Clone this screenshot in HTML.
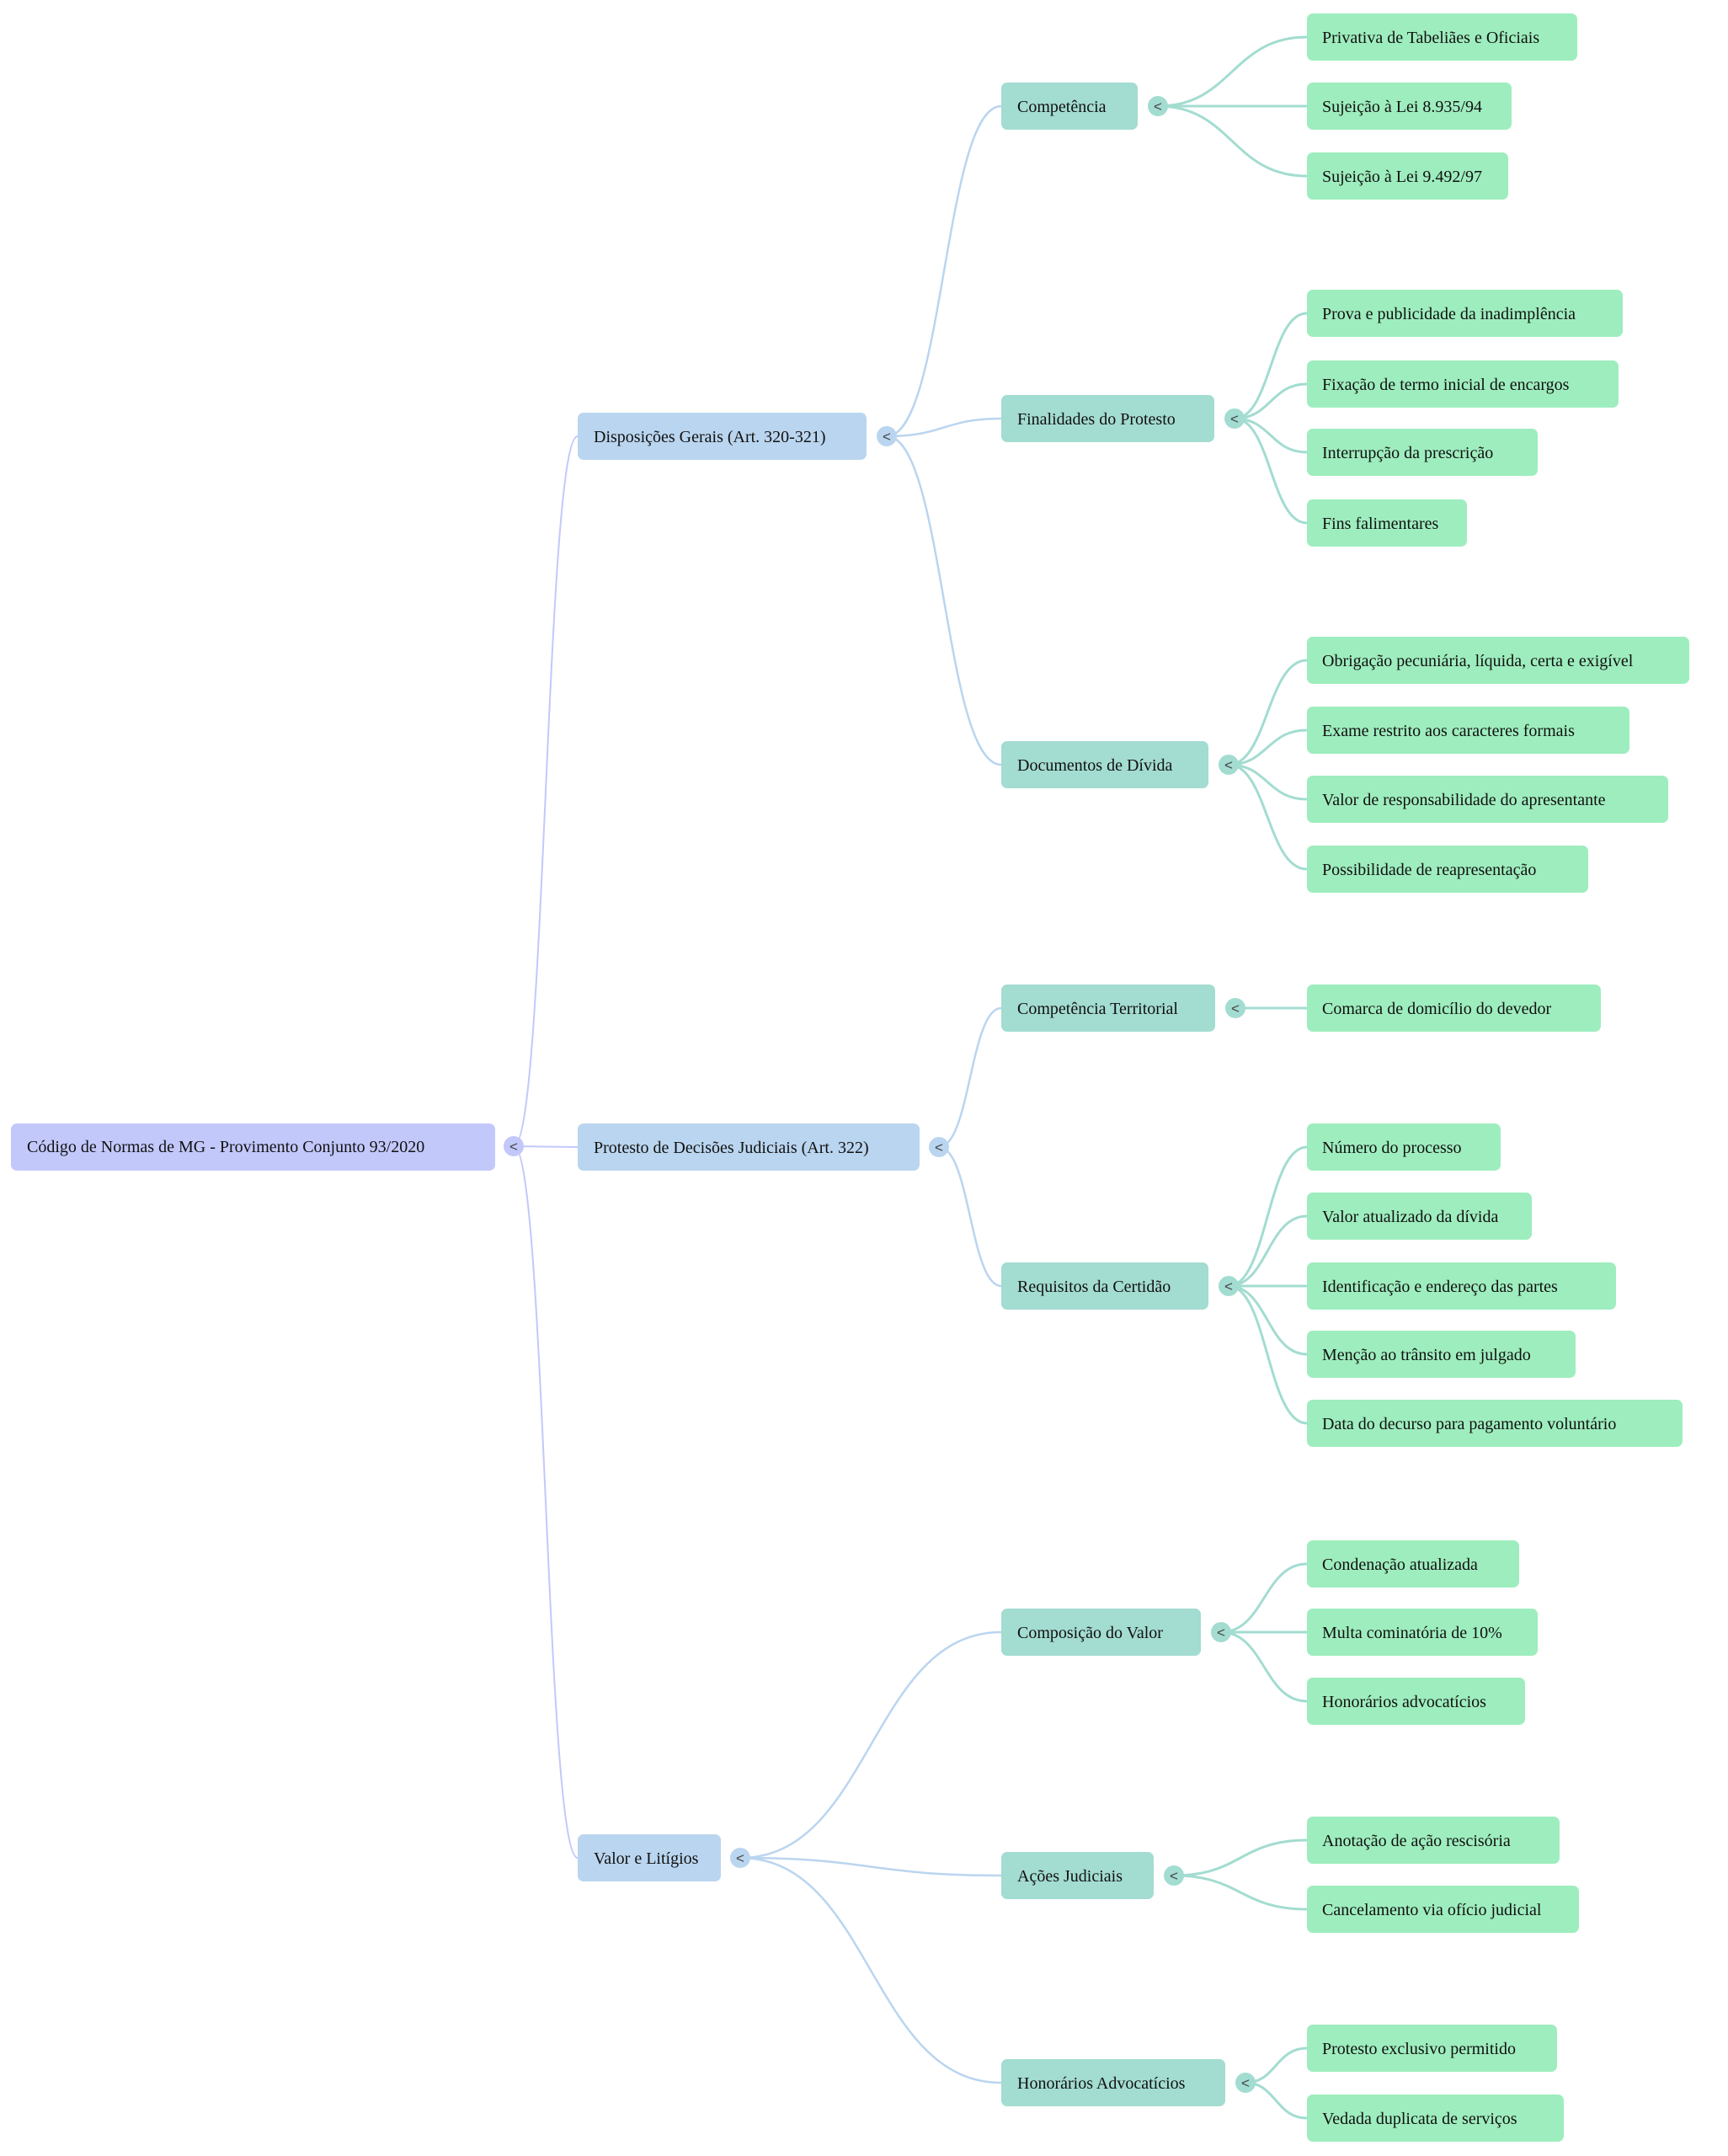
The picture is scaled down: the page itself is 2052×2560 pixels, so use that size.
<!DOCTYPE html>
<html><head><meta charset="utf-8"><style>
html,body{margin:0;padding:0;background:#fff;}
svg{display:block;}
text{font-family:"Liberation Serif",serif;font-size:20px;fill:#111;}
.tg{font-family:"Liberation Sans",sans-serif;font-size:17px;fill:#444;text-anchor:middle;}
</style></head><body>
<svg width="2052" height="2560" viewBox="0 0 2052 2560" xmlns="http://www.w3.org/2000/svg">
<!-- root edges -->
<g fill="none" stroke="#c3c8fb" stroke-width="2">
<path d="M610 1361 C648 1361,648 518,686 518"/>
<path d="M610 1361 L686 1362"/>
<path d="M610 1361 C648 1361,648 2206,686 2206"/>
</g>
<!-- level1 edges -->
<g fill="none" stroke="#bad5ef" stroke-width="2.5">
<path d="M1053 518 C1121 518,1121 126,1189 126"/>
<path d="M1053 518 C1121 518,1121 497,1189 497"/>
<path d="M1053 518 C1121 518,1121 908,1189 908"/>
<path d="M1115 1362 C1152 1362,1152 1197,1189 1197"/>
<path d="M1115 1362 C1152 1362,1152 1527,1189 1527"/>
<path d="M879 2206 C1034 2206,1034 1938,1189 1938"/>
<path d="M879 2206 C1034 2206,1034 2227,1189 2227"/>
<path d="M879 2206 C1034 2206,1034 2473,1189 2473"/>
</g>
<!-- level2 edges -->
<g fill="none" stroke="#a3dcd1" stroke-width="3">
<path d="M1375 126 C1463 126,1463 44,1552 44"/>
<path d="M1375 126 L1552 126"/>
<path d="M1375 126 C1463 126,1463 209,1552 209"/>
<path d="M1466 497 C1509 497,1509 372,1552 372"/>
<path d="M1466 497 C1509 497,1509 456,1552 456"/>
<path d="M1466 497 C1509 497,1509 537,1552 537"/>
<path d="M1466 497 C1509 497,1509 621,1552 621"/>
<path d="M1459 908 C1505 908,1505 784,1552 784"/>
<path d="M1459 908 C1505 908,1505 867,1552 867"/>
<path d="M1459 908 C1505 908,1505 949,1552 949"/>
<path d="M1459 908 C1505 908,1505 1032,1552 1032"/>
<path d="M1467 1197 L1552 1197"/>
<path d="M1459 1527 C1505 1527,1505 1362,1552 1362"/>
<path d="M1459 1527 C1505 1527,1505 1444,1552 1444"/>
<path d="M1459 1527 L1552 1527"/>
<path d="M1459 1527 C1505 1527,1505 1608,1552 1608"/>
<path d="M1459 1527 C1505 1527,1505 1690,1552 1690"/>
<path d="M1450 1938 C1501 1938,1501 1857,1552 1857"/>
<path d="M1450 1938 L1552 1938"/>
<path d="M1450 1938 C1501 1938,1501 2020,1552 2020"/>
<path d="M1394 2227 C1473 2227,1473 2185,1552 2185"/>
<path d="M1394 2227 C1473 2227,1473 2267,1552 2267"/>
<path d="M1479 2473 C1515 2473,1515 2432,1552 2432"/>
<path d="M1479 2473 C1515 2473,1515 2515,1552 2515"/>
</g>
<!-- root -->
<rect x="13" y="1334" width="575" height="56" rx="7" fill="#c3c8fb"/>
<text x="32" y="1368">Código de Normas de MG - Provimento Conjunto 93/2020</text>
<circle cx="610" cy="1361" r="12" fill="#c3c8fb"/><text class="tg" x="610" y="1367">&lt;</text>
<!-- level1 -->
<g fill="#bad5ef">
<rect x="686" y="490" width="343" height="56" rx="7"/>
<rect x="686" y="1334" width="406" height="56" rx="7"/>
<rect x="686" y="2178" width="170" height="56" rx="7"/>
<circle cx="1053" cy="518" r="12"/><circle cx="1115" cy="1362" r="12"/><circle cx="879" cy="2206" r="12"/>
</g>
<text x="705" y="525">Disposições Gerais (Art. 320-321)</text>
<text x="705" y="1369">Protesto de Decisões Judiciais (Art. 322)</text>
<text x="705" y="2213">Valor e Litígios</text>
<text class="tg" x="1053" y="524">&lt;</text><text class="tg" x="1115" y="1368">&lt;</text><text class="tg" x="879" y="2212">&lt;</text>
<!-- level2 -->
<g fill="#a3dcd1">
<rect x="1189" y="98" width="162" height="56" rx="7"/>
<rect x="1189" y="469" width="253" height="56" rx="7"/>
<rect x="1189" y="880" width="246" height="56" rx="7"/>
<rect x="1189" y="1169" width="254" height="56" rx="7"/>
<rect x="1189" y="1499" width="246" height="56" rx="7"/>
<rect x="1189" y="1910" width="237" height="56" rx="7"/>
<rect x="1189" y="2199" width="181" height="56" rx="7"/>
<rect x="1189" y="2445" width="266" height="56" rx="7"/>
<circle cx="1375" cy="126" r="12"/><circle cx="1466" cy="497" r="12"/><circle cx="1459" cy="908" r="12"/><circle cx="1467" cy="1197" r="12"/>
<circle cx="1459" cy="1527" r="12"/><circle cx="1450" cy="1938" r="12"/><circle cx="1394" cy="2227" r="12"/><circle cx="1479" cy="2473" r="12"/>
</g>
<text x="1208" y="133">Competência</text>
<text x="1208" y="504">Finalidades do Protesto</text>
<text x="1208" y="915">Documentos de Dívida</text>
<text x="1208" y="1204">Competência Territorial</text>
<text x="1208" y="1534">Requisitos da Certidão</text>
<text x="1208" y="1945">Composição do Valor</text>
<text x="1208" y="2234">Ações Judiciais</text>
<text x="1208" y="2480">Honorários Advocatícios</text>
<g class="tg">
<text class="tg" x="1375" y="132">&lt;</text><text class="tg" x="1466" y="503">&lt;</text><text class="tg" x="1459" y="914">&lt;</text><text class="tg" x="1467" y="1203">&lt;</text>
<text class="tg" x="1459" y="1533">&lt;</text><text class="tg" x="1450" y="1944">&lt;</text><text class="tg" x="1394" y="2233">&lt;</text><text class="tg" x="1479" y="2479">&lt;</text>
</g>
<!-- leaves -->
<g fill="#9eedbe">
<rect x="1552" y="16" width="321" height="56" rx="7"/>
<rect x="1552" y="98" width="243" height="56" rx="7"/>
<rect x="1552" y="181" width="239" height="56" rx="7"/>
<rect x="1552" y="344" width="375" height="56" rx="7"/>
<rect x="1552" y="428" width="370" height="56" rx="7"/>
<rect x="1552" y="509" width="274" height="56" rx="7"/>
<rect x="1552" y="593" width="190" height="56" rx="7"/>
<rect x="1552" y="756" width="454" height="56" rx="7"/>
<rect x="1552" y="839" width="383" height="56" rx="7"/>
<rect x="1552" y="921" width="429" height="56" rx="7"/>
<rect x="1552" y="1004" width="334" height="56" rx="7"/>
<rect x="1552" y="1169" width="349" height="56" rx="7"/>
<rect x="1552" y="1334" width="230" height="56" rx="7"/>
<rect x="1552" y="1416" width="267" height="56" rx="7"/>
<rect x="1552" y="1499" width="367" height="56" rx="7"/>
<rect x="1552" y="1580" width="319" height="56" rx="7"/>
<rect x="1552" y="1662" width="446" height="56" rx="7"/>
<rect x="1552" y="1829" width="252" height="56" rx="7"/>
<rect x="1552" y="1910" width="274" height="56" rx="7"/>
<rect x="1552" y="1992" width="259" height="56" rx="7"/>
<rect x="1552" y="2157" width="300" height="56" rx="7"/>
<rect x="1552" y="2239" width="323" height="56" rx="7"/>
<rect x="1552" y="2404" width="297" height="56" rx="7"/>
<rect x="1552" y="2487" width="305" height="56" rx="7"/>
</g>
<text x="1570" y="51">Privativa de Tabeliães e Oficiais</text>
<text x="1570" y="133">Sujeição à Lei 8.935/94</text>
<text x="1570" y="216">Sujeição à Lei 9.492/97</text>
<text x="1570" y="379">Prova e publicidade da inadimplência</text>
<text x="1570" y="463">Fixação de termo inicial de encargos</text>
<text x="1570" y="544">Interrupção da prescrição</text>
<text x="1570" y="628">Fins falimentares</text>
<text x="1570" y="791">Obrigação pecuniária, líquida, certa e exigível</text>
<text x="1570" y="874">Exame restrito aos caracteres formais</text>
<text x="1570" y="956">Valor de responsabilidade do apresentante</text>
<text x="1570" y="1039">Possibilidade de reapresentação</text>
<text x="1570" y="1204">Comarca de domicílio do devedor</text>
<text x="1570" y="1369">Número do processo</text>
<text x="1570" y="1451">Valor atualizado da dívida</text>
<text x="1570" y="1534">Identificação e endereço das partes</text>
<text x="1570" y="1615">Menção ao trânsito em julgado</text>
<text x="1570" y="1697">Data do decurso para pagamento voluntário</text>
<text x="1570" y="1864">Condenação atualizada</text>
<text x="1570" y="1945">Multa cominatória de 10%</text>
<text x="1570" y="2027">Honorários advocatícios</text>
<text x="1570" y="2192">Anotação de ação rescisória</text>
<text x="1570" y="2274">Cancelamento via ofício judicial</text>
<text x="1570" y="2439">Protesto exclusivo permitido</text>
<text x="1570" y="2522">Vedada duplicata de serviços</text>
</svg>
</body></html>
